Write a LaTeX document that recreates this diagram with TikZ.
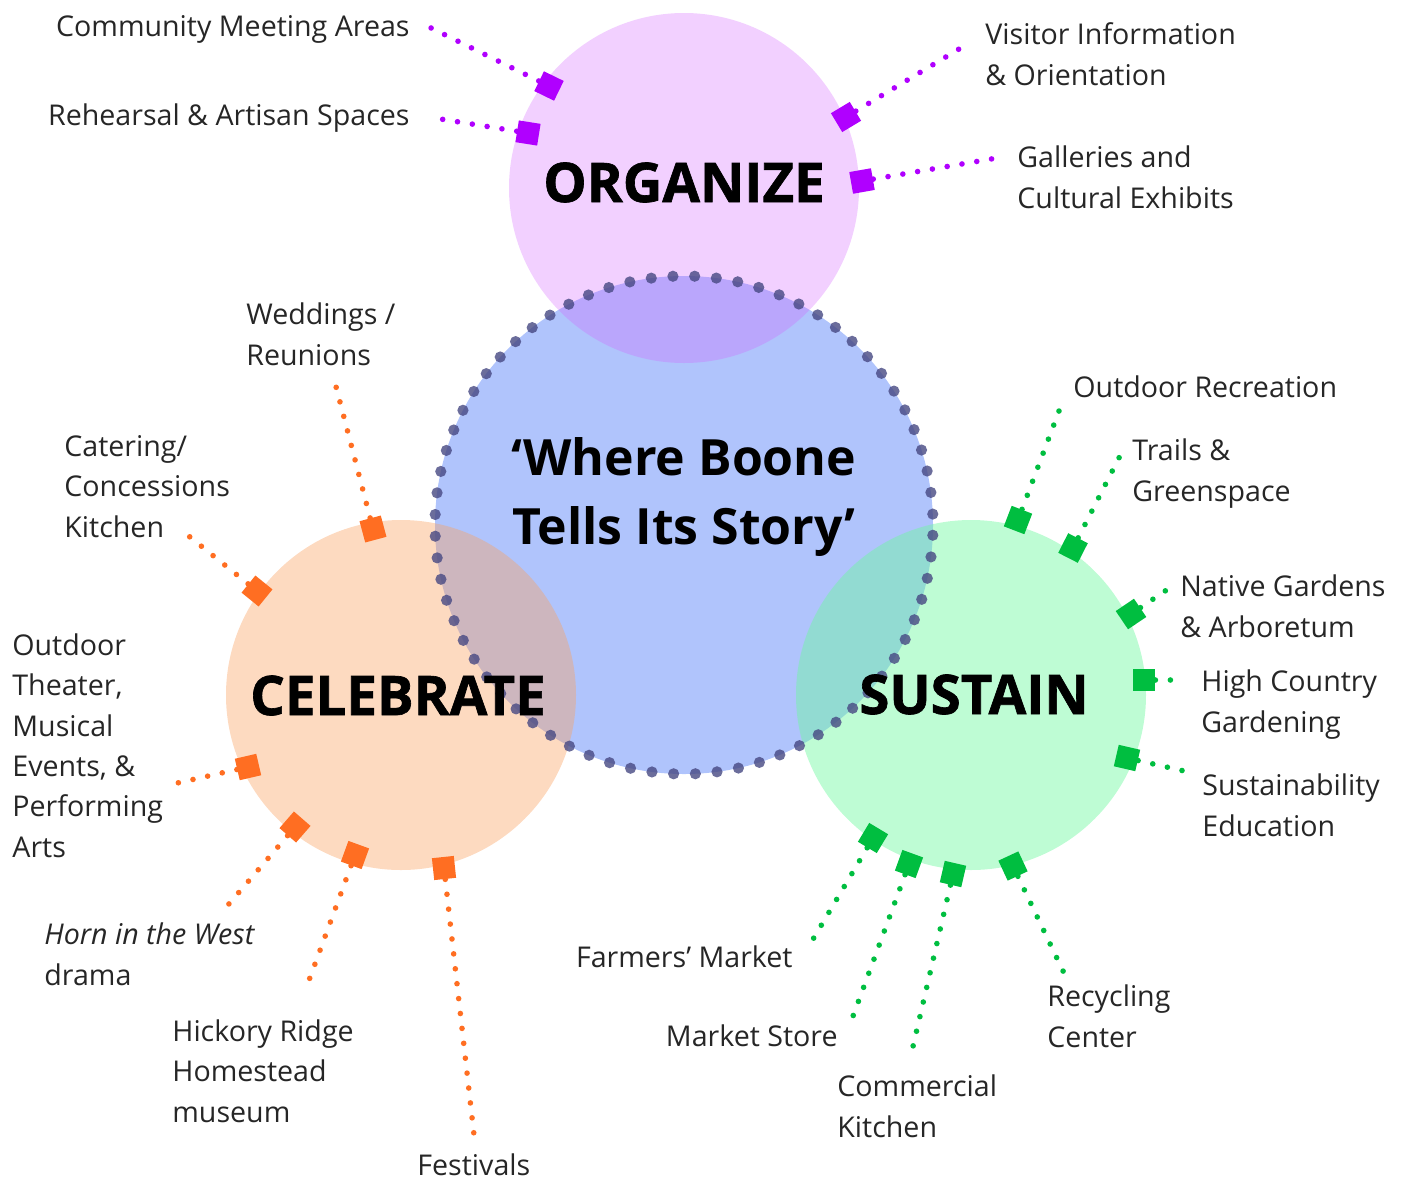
\documentclass[tikz,border=0pt]{standalone}
\usepackage{fontspec}
\setmainfont{Open Sans}
\newfontfamily\heavyfont{Open Sans}[BoldFeatures={FakeBold=1.2}]
\usetikzlibrary{positioning}
\definecolor{orgfill}{RGB}{212,98,255}
\definecolor{celfill}{RGB}{250,162,97}
\definecolor{susfill}{RGB}{111,248,159}
\definecolor{hubfill}{RGB}{176,196,252}
\definecolor{hubdot}{RGB}{70,72,130}
\definecolor{orgmark}{RGB}{176,0,255}
\definecolor{celmark}{RGB}{255,110,34}
\definecolor{susmark}{RGB}{0,190,64}

\begin{document}
\begin{tikzpicture}[
    x=0.5pt, y=-0.5pt,
    area/.style={circle, minimum size=175pt, inner sep=0pt},
    title/.style={font=\heavyfont\fontsize{27.3}{30}\selectfont\bfseries, anchor=base, inner sep=0pt},
    motto/.style={font=\fontsize{25}{34.5}\selectfont\bfseries, align=center, anchor=base, inner sep=0pt},
    lbl/.style={font=\fontsize{14.3}{20.15}\selectfont, align=left, inner sep=0pt, text=black!85},
    marker/.style={rectangle, minimum size=11pt, inner sep=0pt},
    leader/.style={line width=2.8pt, line cap=round, dash pattern=on 0pt off 7.5pt},
    hubring/.style={line width=5.6pt, line cap=round, dash pattern=on 0pt off 10.87pt, dash phase=5.4pt, draw=hubdot, draw opacity=0.8}
]
\useasboundingbox (0,0) rectangle (1403,1179);

% the four circles
\node[area, minimum size=249pt, fill=hubfill] (hub) at (684,525) {};
\node[area, fill=orgfill, fill opacity=0.3] (organize) at (684,188) {};
\node[area, fill=celfill, fill opacity=0.4] (celebrate) at (401,695) {};
\node[area, fill=susfill, fill opacity=0.45] (sustain) at (971,695) {};
\draw[hubring] (hub.center) circle (124.5pt);

% titles (base anchor sits on the last line)
\node[title] (orgtitle) at (684,202) {ORGANIZE};
\node[title] (celtitle) at (398,715) {CELEBRATE};
\node[title] (sustitle) at (974,714) {SUSTAIN};
\node[motto] (boone) at (684,544) {‘Where Boone\\Tells Its Story’};

% organize
\node[marker, fill=orgmark, rotate=154] (cma-mk) at (549,86) {};
\node[marker, fill=orgmark, rotate=171] (ras-mk) at (528,133) {};
\node[marker, fill=orgmark, rotate=31] (vio-mk) at (846,117) {};
\node[marker, fill=orgmark, rotate=10] (gce-mk) at (862,181) {};
\coordinate (cma-end) at (423,24);
\coordinate (ras-end) at (428,117);
\coordinate (vio-end) at (969,43);
\coordinate (gce-end) at (997,158);
\node[lbl, anchor=base east] (cma) at (410,36) {Community Meeting Areas};
\node[lbl, anchor=base east] (ras) at (410,125) {Rehearsal \& Artisan Spaces};
\node[lbl, anchor=base west] (vio) at (985,85) {Visitor Information\\\& Orientation};
\node[lbl, anchor=base west] (gce) at (1017,208) {Galleries and\\Cultural Exhibits};
\draw[leader, orgmark] (cma-mk) -- (cma-end);
\draw[leader, orgmark] (ras-mk) -- (ras-end);
\draw[leader, orgmark] (vio-mk) -- (vio-end);
\draw[leader, orgmark] (gce-mk) -- (gce-end);

% celebrate
\node[marker, fill=celmark, rotate=105] (wed-mk) at (373,529) {};
\node[marker, fill=celmark, rotate=141] (cat-mk) at (257,591) {};
\node[marker, fill=celmark, rotate=193] (oth-mk) at (248,767) {};
\node[marker, fill=celmark, rotate=229] (horn-mk) at (295,827) {};
\node[marker, fill=celmark, rotate=250] (hick-mk) at (355,855) {};
\node[marker, fill=celmark, rotate=276] (fest-mk) at (444,868) {};
\coordinate (wed-end) at (333,375);
\coordinate (cat-end) at (185,533);
\coordinate (oth-end) at (164,786);
\coordinate (horn-end) at (228,905);
\coordinate (hick-end) at (308,983);
\coordinate (fest-end) at (474,1135);
\node[lbl, anchor=base west] (wed) at (246,365) {Weddings /\\Reunions};
\node[lbl, anchor=base west] (cat) at (64,537) {Catering/\\Concessions\\Kitchen};
\node[lbl, anchor=base west] (oth) at (12,857) {Outdoor\\Theater,\\Musical\\Events, \&\\Performing\\Arts};
\node[lbl, anchor=base west] (horn) at (44,985) {\textit{Horn in the West}\\drama};
\node[lbl, anchor=base west] (hick) at (172,1122) {Hickory Ridge\\Homestead\\museum};
\node[lbl, anchor=base west] (fest) at (417,1175) {Festivals};
\draw[leader, celmark] (wed-mk) -- (wed-end);
\draw[leader, celmark] (cat-mk) -- (cat-end);
\draw[leader, celmark] (oth-mk) -- (oth-end);
\draw[leader, celmark] (horn-mk) -- (horn-end);
\draw[leader, celmark] (hick-mk) -- (hick-end);
\draw[leader, celmark] (fest-mk) -- (fest-end);

% sustain
\node[marker, fill=susmark, rotate=69] (orc-mk) at (1018,520) {};
\node[marker, fill=susmark, rotate=63] (trl-mk) at (1073,548) {};
\node[marker, fill=susmark, rotate=34] (ngd-mk) at (1131,614) {};
\node[marker, fill=susmark] (hcg-mk) at (1144,680) {};
\node[marker, fill=susmark, rotate=-13] (sed-mk) at (1127,758) {};
\node[marker, fill=susmark, rotate=239] (fmk-mk) at (873,838) {};
\node[marker, fill=susmark, rotate=250] (mst-mk) at (909,864) {};
\node[marker, fill=susmark, rotate=257] (cki-mk) at (953,874) {};
\node[marker, fill=susmark, rotate=295] (rcy-mk) at (1013,866) {};
\coordinate (orc-end) at (1062,403);
\coordinate (trl-end) at (1123,450);
\coordinate (ngd-end) at (1171,587);
\coordinate (hcg-end) at (1184,680);
\coordinate (sed-end) at (1193,773);
\coordinate (fmk-end) at (809,946);
\coordinate (mst-end) at (849,1027);
\coordinate (cki-end) at (911,1055);
\coordinate (rcy-end) at (1064,973);
\node[lbl, anchor=base west] (orc) at (1073,397) {Outdoor Recreation};
\node[lbl, anchor=base west] (trl) at (1132,501) {Trails \&\\Greenspace};
\node[lbl, anchor=base west] (ngd) at (1180,637) {Native Gardens\\\& Arboretum};
\node[lbl, anchor=base west] (hcg) at (1201,732) {High Country\\Gardening};
\node[lbl, anchor=base west] (sed) at (1202,836) {Sustainability\\Education};
\node[lbl, anchor=base east] (fmk) at (793,967) {Farmers’ Market};
\node[lbl, anchor=base east] (mst) at (838,1046) {Market Store};
\node[lbl, anchor=base west] (cki) at (837,1137) {Commercial\\Kitchen};
\node[lbl, anchor=base west] (rcy) at (1047,1047) {Recycling\\Center};
\draw[leader, susmark] (orc-mk) -- (orc-end);
\draw[leader, susmark] (trl-mk) -- (trl-end);
\draw[leader, susmark] (ngd-mk) -- (ngd-end);
\draw[leader, susmark] (hcg-mk) -- (hcg-end);
\draw[leader, susmark] (sed-mk) -- (sed-end);
\draw[leader, susmark] (fmk-mk) -- (fmk-end);
\draw[leader, susmark] (mst-mk) -- (mst-end);
\draw[leader, susmark] (cki-mk) -- (cki-end);
\draw[leader, susmark] (rcy-mk) -- (rcy-end);

\end{tikzpicture}
\end{document}
